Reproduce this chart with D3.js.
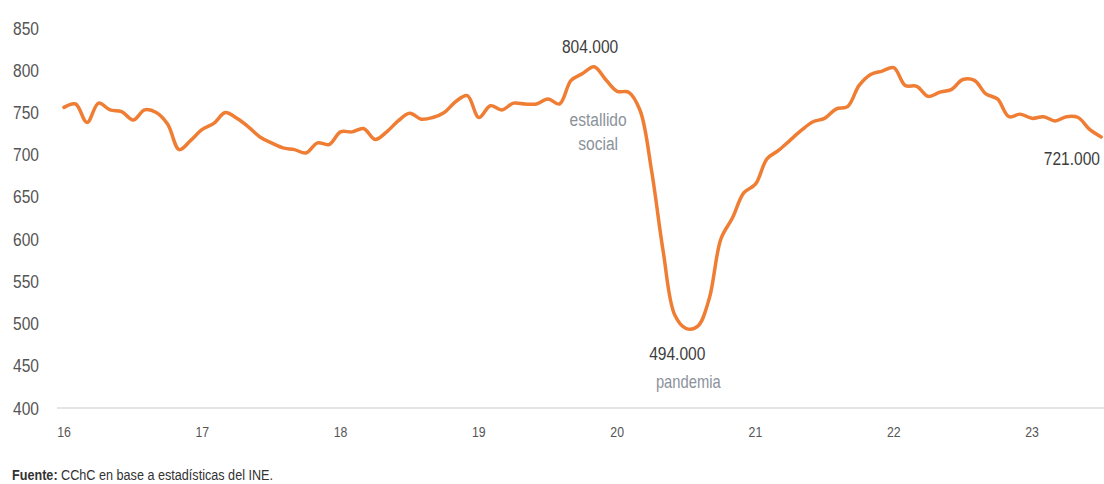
<!DOCTYPE html>
<html>
<head>
<meta charset="utf-8">
<script src="https://cdn.jsdelivr.net/npm/d3@7"></script>
<style>
    html, body { margin: 0; padding: 0; background: #ffffff; }
    #chart { width: 1104px; height: 484px; }
    svg { display: block; font-family: 'Liberation Sans', Arial, sans-serif; }
</style>
</head>
<body>
<div id="chart"></div>
<script>
// Ocupados (miles), monthly Jan 2016 .. Jul 2023
const startYear = 16;
const values = [
    756, 760, 738, 761, 753, 751, 741, 753, 750, 736, 706, 717,
    730, 737, 750, 743, 733, 721, 714, 708, 706, 702, 714, 712,
    727, 727, 731, 718, 727, 740, 749, 742, 744, 750, 763, 770,
    744, 758, 753, 761, 760, 760, 766, 760, 788, 796, 804, 789,
    775, 774, 752, 680, 585, 510, 494, 497, 530, 600, 625, 655,
    665, 695, 705, 717, 729, 739, 743, 754, 757, 782, 795, 799,
    803, 782, 781, 769, 774, 777, 789, 788, 772, 766, 745, 748,
    743, 745, 740, 745, 744, 730, 721
];
const yTicks = [400, 450, 500, 550, 600, 650, 700, 750, 800, 850];
const xTicks = [16, 17, 18, 19, 20, 21, 22, 23];
const annotations = [
    { i: 46, value: '804.000', note: ['estallido', 'social'], pos: 'peak' },
    { i: 54, value: '494.000', note: ['pandemia'], pos: 'trough' },
    { i: 90, value: '721.000', note: [], pos: 'end' }
];

const width = 1104;
const height = 484;
const margin = { top: 28, right: 0, bottom: 76, left: 57 };
const NARROW = 0.82; // condensed look, no narrow font installed

const data = values.map((v, i) => ({ t: startYear + i / 12, v }));

const x = d3.scaleLinear().domain([16, 23]).range([64, 1032]);
const y = d3.scaleLinear().domain([400, 850]).range([height - margin.bottom, margin.top]);

const svg = d3.select('#chart').append('svg')
    .attr('width', width)
    .attr('height', height);

function label(parent, px, py, str, size, fill, anchor) {
    return parent.append('text')
        .attr('transform', `translate(${px},${py}) scale(${NARROW},1)`)
        .attr('text-anchor', anchor || 'middle')
        .attr('font-size', size)
        .attr('fill', fill)
        .text(str);
}

// y tick labels (no axis line)
const yg = svg.append('g');
yTicks.forEach((d) => label(yg, 39, y(d) + 6.5, d, 19, '#555', 'end'));

// x baseline
svg.append('line')
    .attr('x1', margin.left)
    .attr('x2', width)
    .attr('y1', y(400))
    .attr('y2', y(400))
    .attr('stroke', '#dcdcdc')
    .attr('stroke-width', 1.5);

const xg = svg.append('g');
xTicks.forEach((d) => label(xg, x(d), y(400) + 29, d, 15, '#555', 'middle'));

// line
const line = d3.line()
    .x((d) => x(d.t))
    .y((d) => y(d.v))
    .curve(d3.curveCatmullRom.alpha(0.5));

svg.append('path')
    .datum(data)
    .attr('fill', 'none')
    .attr('stroke', '#ef7d33')
    .attr('stroke-width', 3.5)
    .attr('stroke-linejoin', 'round')
    .attr('stroke-linecap', 'round')
    .attr('d', line);

// annotations
annotations.forEach((a) => {
    const d = data[a.i];
    const px = x(d.t);
    const py = y(d.v);
    if (a.pos === 'peak') {
        label(svg, px - 4, py - 14, a.value, 19, '#3d3d3d');
        a.note.forEach((s, k) => label(svg, px + 4, py + 59 + k * 24, s, 19, '#8b929a'));
    } else if (a.pos === 'trough') {
        label(svg, px - 9, py + 31, a.value, 19, '#3d3d3d');
        a.note.forEach((s, k) => label(svg, px + 2, py + 59 + k * 24, s, 18, '#8b929a'));
    } else {
        label(svg, width - 4, py + 28, a.value, 19, '#3d3d3d', 'end');
    }
});

// source
const src = svg.append('text')
    .attr('transform', `translate(12,480) scale(${NARROW},1)`)
    .attr('font-size', 15.4)
    .attr('fill', '#333');
src.append('tspan').attr('font-weight', 700).text('Fuente:');
src.append('tspan').text(' CChC en base a estadísticas del INE.');
</script>
</body>
</html>
